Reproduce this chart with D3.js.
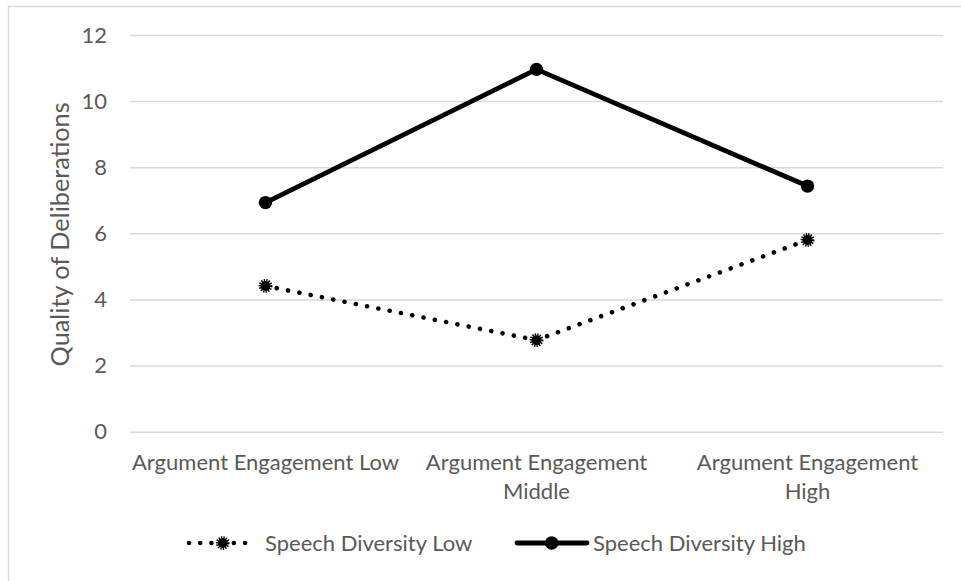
<!DOCTYPE html>
<html>
<head>
<meta charset="utf-8">
<script src="https://cdn.jsdelivr.net/npm/d3@7"></script>
<style>
  html, body { margin: 0; padding: 0; background: #fff; }
  svg { display: block; }
  text { font-family: Lato, "Open Sans", sans-serif; fill: #595959; }
</style>
</head>
<body>
<svg id="chart" width="961" height="581"></svg>
<script>
// Categories along the x axis, with the line breaks used for their labels
const categories = ["Argument Engagement Low", "Argument Engagement Middle", "Argument Engagement High"];
const categoryLines = [
  ["Argument Engagement Low"],
  ["Argument Engagement", "Middle"],
  ["Argument Engagement", "High"]
];

// Series values
const speechDiversityLow = [4.41, 2.77, 5.80];
const speechDiversityHigh = [6.93, 10.96, 7.43];

// Axis ticks
const yTicks = [0, 2, 4, 6, 8, 10, 12];
const yTitle = "Quality of Deliberations";
const legendLabels = ["Speech Diversity Low", "Speech Diversity High"];

const svg = d3.select("#chart");
const W = 961, H = 581;
const plot = { left: 130, right: 943, top: 35, bottom: 431.7 };
const fontSize = 22;

// outer chart border (its right and bottom edges run past the canvas)
svg.append("rect")
  .attr("x", 8.5).attr("y", 6.5)
  .attr("width", W).attr("height", H)
  .attr("fill", "#fff")
  .attr("stroke", "#d9d9d9").attr("stroke-width", 1.5);

const x = d3.scaleBand().domain(categories).range([plot.left, plot.right]);
const y = d3.scaleLinear().domain([0, 12]).range([plot.bottom, plot.top]);
const cx = c => x(c) + x.bandwidth() / 2;

// horizontal gridlines with value labels on the left
const yAxis = d3.axisLeft(y).tickValues(yTicks)
  .tickSize(-(plot.right - plot.left)).tickPadding(23).tickFormat(d3.format("d"));
const gy = svg.append("g").attr("transform", `translate(${plot.left},0)`).call(yAxis);
gy.select(".domain").remove();
gy.selectAll(".tick line").attr("stroke", "#d9d9d9").attr("stroke-width", 1.5);
gy.selectAll(".tick text")
  .attr("font-size", fontSize).attr("fill", "#595959")
  .style("font-family", "Lato, 'Open Sans', sans-serif");

// y axis title
svg.append("text")
  .attr("transform", `translate(69, ${(plot.top + plot.bottom) / 2 + 1}) rotate(-90)`)
  .attr("text-anchor", "middle")
  .attr("font-size", 25.3)
  .text(yTitle);

// category labels under the plot
const xLab = svg.append("g");
categories.forEach((c, i) => {
  const t = xLab.append("text")
    .attr("x", cx(c)).attr("y", 470)
    .attr("text-anchor", "middle")
    .attr("font-size", fontSize);
  categoryLines[i].forEach((line, j) => {
    t.append("tspan").attr("x", cx(c)).attr("dy", j === 0 ? 0 : 28.5).text(line);
  });
});

const line = d3.line().x((d, i) => cx(categories[i])).y(d => y(d));

// jagged round marker used by the low series
function spikyMarker(g, px, py) {
  g.append("circle").attr("cx", px).attr("cy", py).attr("r", 5)
    .attr("fill", "#000");
  g.append("circle").attr("cx", px).attr("cy", py).attr("r", 5.6)
    .attr("fill", "none").attr("stroke", "#000")
    .attr("stroke-width", 2.6).attr("stroke-dasharray", "1.3 1.1");
}

// Speech Diversity Low: round-dot line
svg.append("path").datum(speechDiversityLow)
  .attr("d", line)
  .attr("fill", "none").attr("stroke", "#000")
  .attr("stroke-width", 4.6).attr("stroke-linecap", "round")
  .attr("stroke-dasharray", "0.01 11.5");
const lowMarks = svg.append("g");
speechDiversityLow.forEach((v, i) => spikyMarker(lowMarks, cx(categories[i]), y(v)));

// Speech Diversity High: solid line with circle markers
svg.append("path").datum(speechDiversityHigh)
  .attr("d", line)
  .attr("fill", "none").attr("stroke", "#000")
  .attr("stroke-width", 4.8).attr("stroke-linejoin", "round");
svg.append("g").selectAll("circle").data(speechDiversityHigh).join("circle")
  .attr("cx", (d, i) => cx(categories[i])).attr("cy", d => y(d))
  .attr("r", 6.7).attr("fill", "#000");

// legend
const ly = 543;
const leg = svg.append("g");
leg.append("line")
  .attr("x1", 189).attr("x2", 256).attr("y1", ly).attr("y2", ly)
  .attr("stroke", "#000").attr("stroke-width", 4.6)
  .attr("stroke-linecap", "round").attr("stroke-dasharray", "0.01 11.2");
spikyMarker(leg, 222.7, ly);
leg.append("text").attr("x", 265).attr("y", ly).attr("dy", "0.35em")
  .attr("font-size", fontSize).text(legendLabels[0]);

leg.append("line")
  .attr("x1", 517).attr("x2", 587).attr("y1", ly).attr("y2", ly)
  .attr("stroke", "#000").attr("stroke-width", 4.8).attr("stroke-linecap", "round");
leg.append("circle").attr("cx", 551.7).attr("cy", ly).attr("r", 6.7).attr("fill", "#000");
leg.append("text").attr("x", 593).attr("y", ly).attr("dy", "0.35em")
  .attr("font-size", fontSize).text(legendLabels[1]);
</script>
</body>
</html>
